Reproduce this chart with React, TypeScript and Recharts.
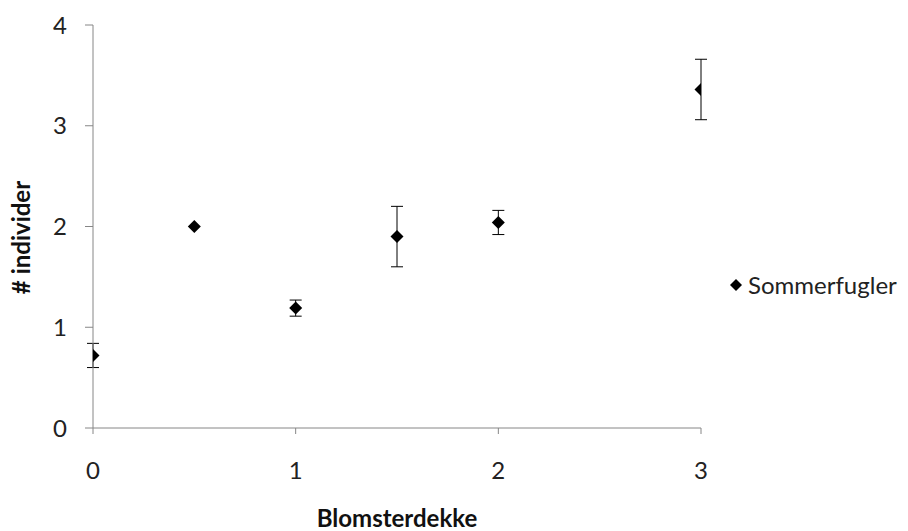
import React from 'react';
import { ScatterChart, Scatter, XAxis, YAxis, ErrorBar, Legend } from 'recharts';

const xValues = [0, 0.5, 1, 1.5, 2, 3];
const yValues = [0.72, 2.0, 1.19, 1.9, 2.04, 3.36];
const errValues = [0.12, 0, 0.08, 0.3, 0.12, 0.3];
const xTicks = [0, 1, 2, 3];
const yTicks = [0, 1, 2, 3, 4];
const seriesName = 'Sommerfugler';
const xLabel = 'Blomsterdekke';
const yLabel = '# individer';

const data = xValues.map((x, i) => ({ x, y: yValues[i], err: errValues[i] }));

const FONT = 'Lato, "Open Sans", sans-serif';
const FS = 24;
const LEGEND_W = 180;

const Diamond = (props: any) => {
  const { cx, cy } = props;
  const r = 6.5;
  return (
    <polygon
      points={`${cx},${cy - r} ${cx + r},${cy} ${cx},${cy + r} ${cx - r},${cy}`}
      fill="#000"
    />
  );
};

const LegendContent = () => (
  <div style={{ display: 'flex', alignItems: 'center', fontFamily: FONT, fontSize: FS, color: '#222', lineHeight: '28px' }}>
    <svg width={14} height={14} style={{ marginRight: 5 }}>
      <polygon points="7,1 13,7 7,13 1,7" fill="#000" />
    </svg>
    <span>{seriesName}</span>
  </div>
);

const YLabel = (props: any) => {
  const vb = props.viewBox || { x: 0, y: 25, width: 93, height: 403 };
  const x = vb.x + 20;
  const y = vb.y + vb.height / 2 + 11;
  return (
    <text
      x={x}
      y={y}
      transform={`rotate(-90, ${x}, ${y})`}
      textAnchor="middle"
      dominantBaseline="central"
      fill="#111"
      fontSize={FS}
      fontWeight="bold"
      fontFamily={FONT}
    >
      {yLabel}
    </text>
  );
};

export default function App() {
  return (
    <div style={{ position: 'absolute', left: 0, top: 0, background: '#fff' }}>
      <ScatterChart width={908} height={531} margin={{ top: 25, right: 207 - LEGEND_W, bottom: 0, left: 0 }}>
        <XAxis
          type="number"
          dataKey="x"
          domain={[0, 3]}
          ticks={xTicks}
          allowDataOverflow
          height={103}
          stroke="#868686"
          tickSize={6}
          tickMargin={28}
          tick={{ fill: '#222', fontSize: FS, fontFamily: FONT }}
          label={{ value: xLabel, position: 'insideBottom', offset: 4, fill: '#111', fontSize: FS, fontWeight: 'bold', fontFamily: FONT }}
        />
        <YAxis
          type="number"
          dataKey="y"
          domain={[0, 4]}
          ticks={yTicks}
          width={93}
          stroke="#868686"
          tickSize={8}
          tickMargin={18}
          tick={{ fill: '#222', fontSize: FS, fontFamily: FONT }}
          label={<YLabel />}
        />
        <Legend
          layout="vertical"
          align="right"
          verticalAlign="top"
          content={<LegendContent />}
          wrapperStyle={{ left: 729, top: 271, width: LEGEND_W }}
        />
        <Scatter name={seriesName} data={data} shape={<Diamond />} isAnimationActive={false}>
          <ErrorBar dataKey="err" direction="y" width={6} stroke="#000" strokeWidth={1} isAnimationActive={false} />
        </Scatter>
      </ScatterChart>
    </div>
  );
}
